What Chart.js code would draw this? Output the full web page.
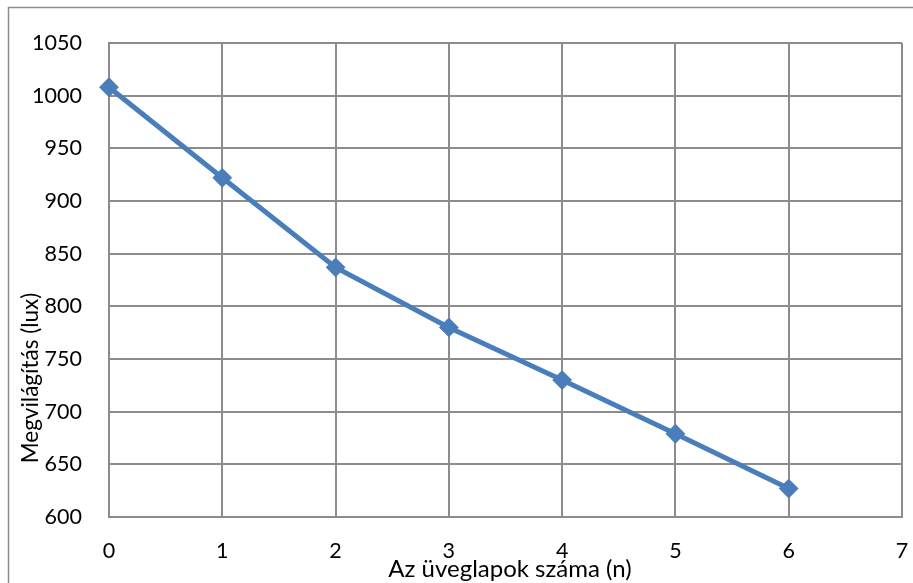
<!DOCTYPE html>
<html>
<head>
<meta charset="utf-8">
<script src="https://cdn.jsdelivr.net/npm/chart.js@4.4.0/dist/chart.umd.min.js"></script>
<style>
  html, body { margin: 0; padding: 0; background: #fff; }
  #wrap { width: 913px; height: 583px; }
</style>
</head>
<body>
<div id="wrap"><canvas id="lightChart" width="913" height="583"></canvas></div>
<script>
// number of glass plates and measured illuminance
var plates = [0, 1, 2, 3, 4, 5, 6];
var lux = [1008, 922, 837, 780, 730, 679, 627];
var xTicks = [0, 1, 2, 3, 4, 5, 6, 7];
var yTicks = [600, 650, 700, 750, 800, 850, 900, 950, 1000, 1050];

var xTitle = 'Az üveglapok száma (n)';
var yTitle = 'Megvilágítás (lux)';

var FONT = 'Lato, "Noto Sans", sans-serif';
var GRID = '#8c8c8c';
var BLUE = '#4a7ebb';

// outer frame and the two axis titles, drawn by hand so they can overlap the ticks
var framePlugin = {
    id: 'frame',
    afterDraw: function(chart) {
        var ctx = chart.ctx;
        var area = chart.chartArea;
        ctx.save();
        ctx.strokeStyle = GRID;
        ctx.lineWidth = 1.5;
        ctx.beginPath();
        ctx.moveTo(8.5, 600);
        ctx.lineTo(8.5, 7.5);
        ctx.lineTo(920, 7.5);
        ctx.stroke();

        ctx.fillStyle = '#000';
        ctx.textAlign = 'center';
        ctx.textBaseline = 'middle';
        ctx.font = '24px ' + FONT;
        ctx.fillText(xTitle, 510, area.bottom + 52);

        ctx.font = '22.5px ' + FONT;
        ctx.translate(31, 378);
        ctx.rotate(-Math.PI / 2);
        ctx.fillText(yTitle, 0, 0);
        ctx.restore();
    }
};

var ctx = document.getElementById('lightChart').getContext('2d');
var lightChart = new Chart(ctx, {
    type: 'scatter',
    data: {
        datasets: [{
            data: plates.map(function(p, i) { return { x: p, y: lux[i] }; }),
            showLine: true,
            borderColor: BLUE,
            backgroundColor: BLUE,
            borderWidth: 5,
            pointStyle: 'rectRot',
            pointRadius: 8.5,
            pointHoverRadius: 8.5,
            pointBorderWidth: 2,
            pointBorderColor: BLUE,
            pointBackgroundColor: BLUE,
            clip: false
        }]
    },
    options: {
        responsive: false,
        animation: false,
        events: [],
        layout: { padding: { top: 43, right: 11, left: 0, bottom: 0 } },
        plugins: {
            legend: { display: false },
            tooltip: { enabled: false }
        },
        scales: {
            x: {
                type: 'linear',
                min: 0,
                max: 7,
                afterBuildTicks: function(scale) {
                    scale.ticks = xTicks.map(function(v) { return { value: v }; });
                },
                afterFit: function(scale) {
                    scale.height = 66;
                    scale.paddingLeft = 0;
                    scale.paddingRight = 0;
                },
                grid: { color: GRID, lineWidth: 2, drawTicks: false },
                border: { color: GRID, width: 2 },
                ticks: {
                    color: '#000', padding: 21, font: { family: FONT, size: 21.5 },
                    callback: function(v) { return String(v); }
                }
            },
            y: {
                min: 600,
                max: 1050,
                afterBuildTicks: function(scale) {
                    scale.ticks = yTicks.map(function(v) { return { value: v }; });
                },
                afterFit: function(scale) {
                    scale.width = 109;
                    scale.paddingTop = 0;
                    scale.paddingBottom = 0;
                },
                grid: { color: GRID, lineWidth: 2, drawTicks: false },
                border: { color: GRID, width: 2 },
                ticks: {
                    color: '#000', padding: 27, font: { family: FONT, size: 21.5 },
                    callback: function(v) { return String(v); }
                }
            }
        }
    },
    plugins: [framePlugin]
});
</script>
</body>
</html>
